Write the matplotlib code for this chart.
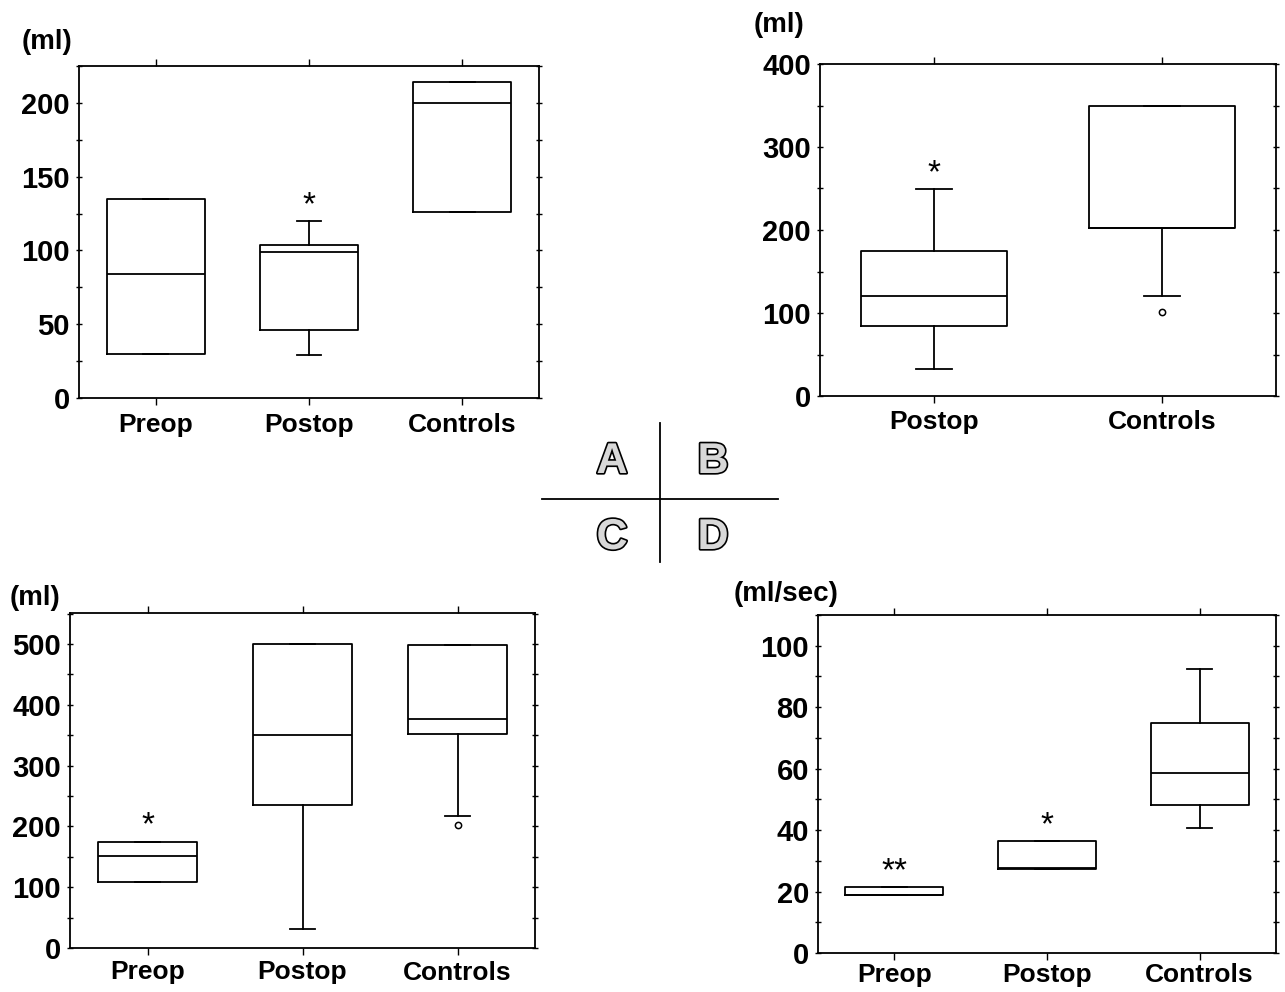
import matplotlib
matplotlib.use("Agg")
import matplotlib.pyplot as plt
from matplotlib.ticker import MultipleLocator
from matplotlib.lines import Line2D
import matplotlib.patheffects as pe

plt.rcParams['font.family'] = ['Liberation Sans', 'DejaVu Sans']

W, H = 1285, 992

# ---------------- data ----------------
A_cats = ['Preop', 'Postop', 'Controls']
A_q1 = [30, 46, 126]
A_med = [84, 99, 200]
A_q3 = [135, 104, 214]
A_lo = [30, 29, 126]
A_hi = [135, 120, 214]
A_fliers = [[], [], []]
A_marks = ['', '*', '']

B_cats = ['Postop', 'Controls']
B_q1 = [84, 202]
B_med = [121, 203]
B_q3 = [175, 350]
B_lo = [32, 121]
B_hi = [249, 350]
B_fliers = [[], [101]]
B_marks = ['*', '']

C_cats = ['Preop', 'Postop', 'Controls']
C_q1 = [109, 235, 352]
C_med = [151, 350, 376]
C_q3 = [175, 500, 499]
C_lo = [109, 31, 217]
C_hi = [175, 500, 499]
C_fliers = [[], [], [202]]
C_marks = ['*', '', '']

D_cats = ['Preop', 'Postop', 'Controls']
D_q1 = [19, 27.5, 48.3]
D_med = [19, 27.7, 58.7]
D_q3 = [21.5, 36.4, 74.9]
D_lo = [19, 27.5, 40.8]
D_hi = [21.5, 36.4, 92.4]
D_fliers = [[], [], []]
D_marks = ['**', '*', '']

fig = plt.figure(figsize=(W / 100, H / 100), dpi=100)


def px_axes(l, r, t, b):
    return fig.add_axes([l / W, 1 - b / H, (r - l) / W, (b - t) / H])


def panel(rect, cats, q1, med, q3, lo, hi, fliers, marks, ymax, major, minor,
          unit, unit_xy, xpad=6):
    ax = px_axes(*rect)
    stats = []
    for i in range(len(cats)):
        stats.append(dict(q1=q1[i], med=med[i], q3=q3[i], whislo=lo[i],
                          whishi=hi[i], fliers=fliers[i], label=cats[i]))
    pos = list(range(1, len(cats) + 1))
    lw = 1.3
    ax.bxp(stats, positions=pos, widths=0.64, capwidths=0.16,
           showfliers=True,
           boxprops=dict(color='black', linewidth=lw),
           medianprops=dict(color='black', linewidth=lw),
           whiskerprops=dict(color='black', linewidth=lw),
           capprops=dict(color='black', linewidth=lw),
           flierprops=dict(marker='o', markersize=4.5, markerfacecolor='white',
                           markeredgecolor='black', markeredgewidth=1.1))
    for i, m in enumerate(marks):
        if m:
            top = max(hi[i], q3[i])
            ax.annotate(m, (pos[i], top), xytext=(0, 0), textcoords='offset points',
                        ha='center', va='bottom', fontsize=24, color='black')
    ax.set_xlim(0.5, len(cats) + 0.5)
    ax.set_ylim(0, ymax)
    ax.set_xticks(pos)
    ax.set_xticklabels(cats, fontsize=19, fontweight='bold')
    ax.yaxis.set_major_locator(MultipleLocator(major))
    ax.yaxis.set_minor_locator(MultipleLocator(minor))
    for lab in ax.get_yticklabels():
        lab.set_fontsize(21)
        lab.set_fontweight('bold')
    ax.tick_params(axis='x', which='both', direction='out', length=5, width=1,
                   top=True, bottom=True, pad=xpad)
    ax.tick_params(axis='y', which='both', direction='inout', length=5, width=1,
                   left=True, right=True, pad=4)
    for s in ax.spines.values():
        s.set_linewidth(1.3)
    fig.text(unit_xy[0] / W, 1 - unit_xy[1] / H, unit, fontsize=20,
             fontweight='bold', ha='left', va='center')
    return ax


panel((79, 539, 66, 398), A_cats, A_q1, A_med, A_q3, A_lo, A_hi, A_fliers,
      A_marks, 225, 50, 25, '(ml)', (22, 42), xpad=6)
panel((820, 1276, 64, 396), B_cats, B_q1, B_med, B_q3, B_lo, B_hi, B_fliers,
      B_marks, 400, 100, 50, '(ml)', (754, 25), xpad=5)
panel((70, 535, 613, 948), C_cats, C_q1, C_med, C_q3, C_lo, C_hi, C_fliers,
      C_marks, 551, 100, 50, '(ml)', (10, 598), xpad=4)
panel((818, 1276, 615, 953), D_cats, D_q1, D_med, D_q3, D_lo, D_hi, D_fliers,
      D_marks, 110, 20, 10, '(ml/sec)', (734, 594), xpad=2)

# central A/B/C/D key
fig.add_artist(Line2D([660 / W, 660 / W], [1 - 423 / H, 1 - 562 / H],
                      color='black', linewidth=1.3))
fig.add_artist(Line2D([542 / W, 778 / W], [1 - 499 / H, 1 - 499 / H],
                      color='black', linewidth=1.3))
for letter, (x, y) in zip(['A', 'B', 'C', 'D'],
                          [(612, 462), (713, 462), (612, 538), (713, 538)]):
    fig.text(x / W, 1 - y / H, letter, fontsize=31, fontweight='bold',
             ha='center', va='center', color='#d8d8d8',
             path_effects=[pe.Stroke(linewidth=2.4, foreground='black'),
                           pe.Normal()])

fig.savefig('out.png', dpi=100)
